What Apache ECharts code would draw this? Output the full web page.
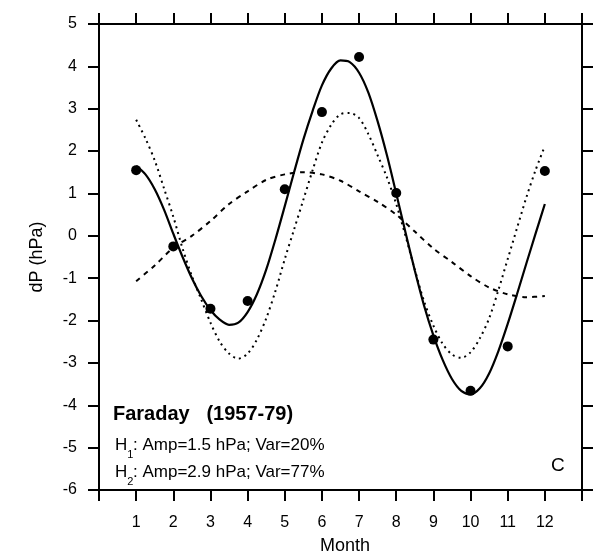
<!DOCTYPE html>
<html>
<head>
<meta charset="utf-8">
<script src="https://cdn.jsdelivr.net/npm/echarts@6/dist/echarts.min.js"></script>
<style>html,body{margin:0;padding:0;background:#fff;overflow:hidden}#c{width:596px;height:560px}</style>
</head>
<body>
<div id="c"></div>
<script>
// Observed monthly values (dots)
const months = [1,2,3,4,5,6,7,8,9,10,11,12];
const observed = [1.55,-0.25,-1.72,-1.54,1.1,2.92,4.22,1.01,-2.45,-3.66,-2.61,1.53];

// Full fit curve (solid), read every quarter month
const fitMonths = [1,1.25,1.5,1.75,2,2.25,2.5,2.75,3,3.25,3.5,3.75,4,4.25,4.5,4.75,5,5.25,5.5,5.75,6,6.25,6.5,6.75,7,7.25,7.5,7.75,8,8.25,8.5,8.75,9,9.25,9.5,9.75,10,10.25,10.5,10.75,11,11.25,11.5,11.75,12];
const fitAll = [1.65,1.45,1.1,0.62,0.05,-0.5,-1.0,-1.42,-1.75,-1.98,-2.1,-2.05,-1.8,-1.38,-0.8,-0.08,0.7,1.5,2.27,2.95,3.55,3.95,4.14,4.1,3.85,3.38,2.7,1.9,1.0,0.08,-0.82,-1.65,-2.35,-2.93,-3.38,-3.66,-3.74,-3.6,-3.25,-2.72,-2.08,-1.38,-0.66,0.05,0.75];

// Second harmonic (dotted), same sampling
const fitH2 = [2.74,2.3,1.78,1.12,0.45,-0.3,-0.95,-1.5,-2.05,-2.5,-2.78,-2.9,-2.78,-2.45,-1.95,-1.3,-0.55,0.15,0.85,1.55,2.2,2.62,2.87,2.9,2.78,2.4,1.9,1.38,0.75,0.0,-0.8,-1.55,-2.12,-2.55,-2.8,-2.88,-2.75,-2.42,-1.95,-1.28,-0.55,0.18,0.9,1.55,2.12];

// First harmonic (dashed), read every half month
const h1Months = [1,1.5,2,2.5,3,3.5,4,4.5,5,5.5,6,6.5,7,7.5,8,8.5,9,9.5,10,10.5,11,11.5,12];
const fitH1 = [-1.07,-0.7,-0.28,0.0,0.35,0.75,1.05,1.32,1.45,1.5,1.45,1.3,1.05,0.8,0.5,0.1,-0.3,-0.62,-0.95,-1.22,-1.38,-1.45,-1.42];

const yTicks = [-6,-5,-4,-3,-2,-1,0,1,2,3,4,5];
const title = 'Faraday   (1957-79)';
const h1Text = ': Amp=1.5 hPa; Var=20%';
const h2Text = ': Amp=2.9 hPa; Var=77%';
const panel = 'C';

const pair = (xs, ys) => xs.map((x, i) => [x, ys[i]]);
const FONT = '"Liberation Sans", Arial, Helvetica, sans-serif';

const axisCommon = {
  type: 'value',
  axisLine: { show: true, onZero: false, lineStyle: { color: '#000', width: 2 } },
  axisTick: { show: true, inside: false, length: 11, lineStyle: { color: '#000', width: 2 } },
  splitLine: { show: false }
};

const el = document.getElementById('c');
const chart = echarts.init(el, null, { renderer: 'canvas', width: 596, height: 560 });
chart.setOption({
  animation: false,
  backgroundColor: '#fff',
  textStyle: { fontFamily: FONT },
  grid: { left: 99, right: 14, top: 24, bottom: 66 },
  xAxis: [
    Object.assign({}, axisCommon, {
      position: 'bottom', min: 0, max: 13, interval: 1,
      axisLabel: { show: true, color: '#000', fontSize: 16, margin: 25, fontFamily: FONT,
        formatter: v => (v >= 1 && v <= 12) ? String(v) : '' },
      name: 'Month', nameLocation: 'middle', nameGap: 47,
      nameTextStyle: { color: '#000', fontSize: 18, fontFamily: FONT, padding: [0, 0, 0, 9] }
    }),
    Object.assign({}, axisCommon, {
      position: 'top', min: 0, max: 13, interval: 1,
      axisLabel: { show: false }
    })
  ],
  yAxis: [
    Object.assign({}, axisCommon, {
      position: 'left', min: yTicks[0], max: yTicks[yTicks.length - 1], interval: 1,
      axisLabel: { show: true, color: '#000', fontSize: 16, margin: 22, fontFamily: FONT },
      name: 'dP (hPa)', nameLocation: 'middle', nameGap: 53, nameRotate: 90,
      nameTextStyle: { color: '#000', fontSize: 18, fontFamily: FONT }
    }),
    Object.assign({}, axisCommon, {
      position: 'right', min: yTicks[0], max: yTicks[yTicks.length - 1], interval: 1,
      axisLabel: { show: false }
    })
  ],
  series: [
    {
      type: 'line', xAxisIndex: 0, yAxisIndex: 0, data: pair(h1Months, fitH1),
      smooth: 0.3, showSymbol: false, symbol: 'none',
      lineStyle: { color: '#000', width: 2, type: [5, 5] }
    },
    {
      type: 'line', xAxisIndex: 0, yAxisIndex: 0, data: pair(fitMonths, fitH2),
      smooth: 0.3, showSymbol: false, symbol: 'none',
      lineStyle: { color: '#000', width: 2, type: [2, 4] }
    },
    {
      type: 'line', xAxisIndex: 0, yAxisIndex: 0, data: pair(fitMonths, fitAll),
      smooth: 0.3, showSymbol: false, symbol: 'none',
      lineStyle: { color: '#000', width: 2.2, type: 'solid' }
    },
    {
      type: 'scatter', xAxisIndex: 0, yAxisIndex: 0, data: pair(months, observed),
      symbol: 'circle', symbolSize: 10, itemStyle: { color: '#000', opacity: 1 }
    }
  ],
  graphic: [
    { type: 'text', left: 113, top: 404, style: { text: title, font: 'bold 20px ' + FONT, fill: '#000' } },
    { type: 'group', left: 115, top: 437, children: [
      { type: 'text', x: 0, y: 0, style: { text: 'H', font: '17px ' + FONT, fill: '#000' } },
      { type: 'text', x: 12.3, y: 12, style: { text: '1', font: '11px ' + FONT, fill: '#000' } },
      { type: 'text', x: 18, y: 0, style: { text: h1Text, font: '17px ' + FONT, fill: '#000' } }
    ] },
    { type: 'group', left: 115, top: 464, children: [
      { type: 'text', x: 0, y: 0, style: { text: 'H', font: '17px ' + FONT, fill: '#000' } },
      { type: 'text', x: 12.3, y: 12, style: { text: '2', font: '11px ' + FONT, fill: '#000' } },
      { type: 'text', x: 18, y: 0, style: { text: h2Text, font: '17px ' + FONT, fill: '#000' } }
    ] },
    { type: 'text', left: 551, top: 456, style: { text: panel, font: '19px ' + FONT, fill: '#000' } }
  ]
});
</script>
</body>
</html>
